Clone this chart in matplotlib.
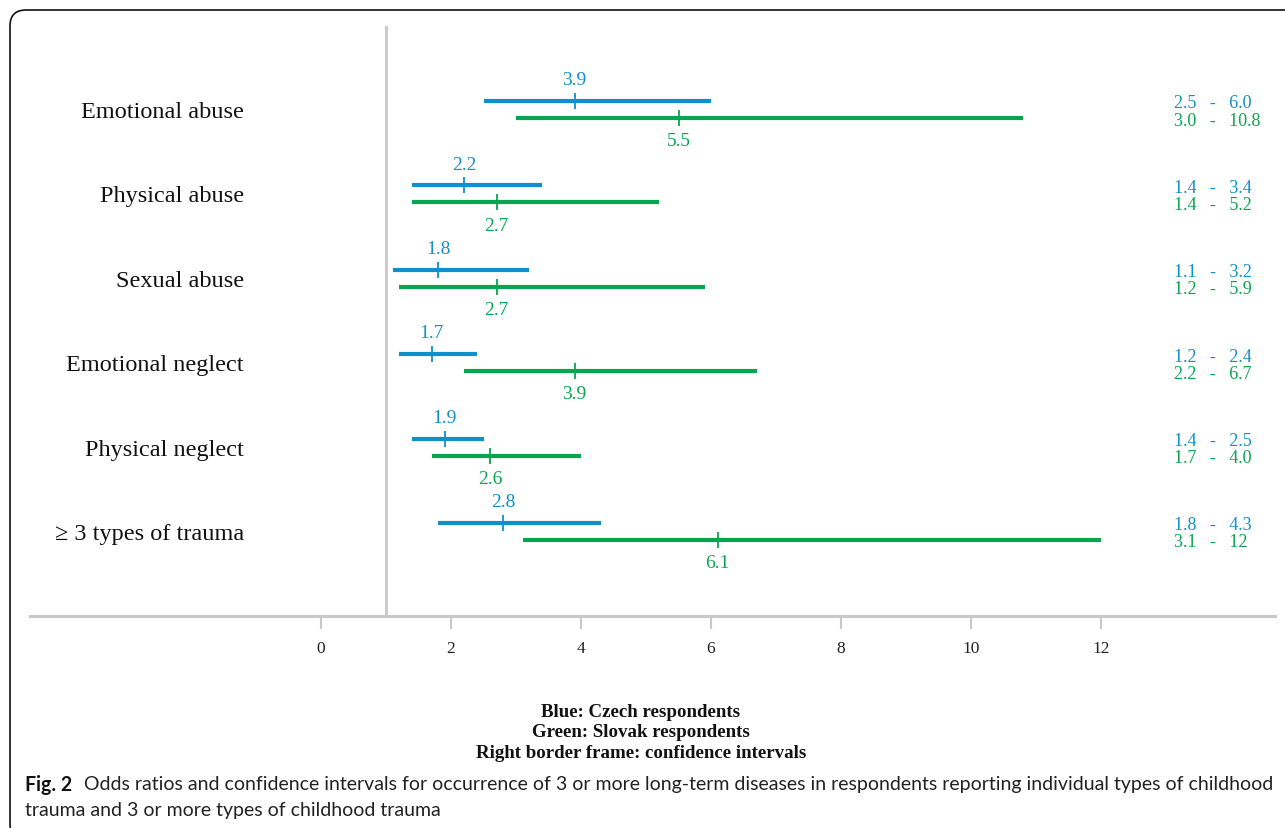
import matplotlib
matplotlib.use('Agg')
import matplotlib.pyplot as plt
from matplotlib import font_manager
from matplotlib.patches import FancyBboxPatch
from matplotlib.transforms import IdentityTransform

# ---------------- data ----------------
categories = ["Emotional abuse", "Physical abuse", "Sexual abuse",
              "Emotional neglect", "Physical neglect", "\u2265 3 types of trauma"]
czech_or = [3.9, 2.2, 1.8, 1.7, 1.9, 2.8]
czech_lo = [2.5, 1.4, 1.1, 1.2, 1.4, 1.8]
czech_hi = [6.0, 3.4, 3.2, 2.4, 2.5, 4.3]
slovak_or = [5.5, 2.7, 2.7, 3.9, 2.6, 6.1]
slovak_lo = [3.0, 1.4, 1.2, 2.2, 1.7, 3.1]
slovak_hi = [10.8, 5.2, 5.9, 6.7, 4.0, 12]
xticks = [0, 2, 4, 6, 8, 10, 12]
legend_lines = ["Blue: Czech respondents", "Green: Slovak respondents",
                "Right border frame: confidence intervals"]
caption_bold = "Fig. 2"
caption_line1 = ("Odds ratios and confidence intervals for occurrence of 3 or more long-term "
                 "diseases in respondents reporting individual types of childhood")
caption_line2 = "trauma and 3 or more types of childhood trauma"

BLUE = "#0e90cc"
GREEN = "#08a551"
GRAY = "#c8c8c8"
SERIF = ["Liberation Serif", "DejaVu Serif"]


def fmt(v):
    return str(v) if isinstance(v, int) else f"{v:.1f}"


W, H = 1285, 829
fig = plt.figure(figsize=(W / 100, H / 100), dpi=100)


def fx(px):
    return px / W


def fy(py):
    return 1 - py / H


# axes placed so that x=0 -> 321px, 65 px per unit
ax = fig.add_axes([fx(30), fy(617), fx(1275) - fx(30), fy(27) - fy(617)])
ax.set_xlim((30 - 321) / 65, (1275 - 321) / 65)
row_mid, row_step = 110.5, 84.4
ax.set_ylim((617 - row_mid) / row_step, (27 - row_mid) / row_step)

for s in ["top", "right", "left"]:
    ax.spines[s].set_visible(False)
ax.spines["bottom"].set_color(GRAY)
ax.spines["bottom"].set_linewidth(2.2)
ax.axvline(1, color=GRAY, lw=2.0, zorder=1)
ax.set_yticks([])
ax.set_xticks(xticks)
ax.set_xticklabels([str(t) for t in xticks], family=SERIF, fontsize=12.5, color="#222222")
ax.tick_params(axis="x", length=9.5, width=1.5, color=GRAY, pad=8)

off = 8.5 / row_step
dy = 2.0 / row_step  # small downward nudge for text centring
for i, cat in enumerate(categories):
    yb, yg = i - off, i + off
    ax.plot([czech_lo[i], czech_hi[i]], [yb, yb], color=BLUE, lw=3.0,
            solid_capstyle="butt", zorder=3)
    ax.plot([czech_or[i]], [yb], marker="|", ms=11, mew=1.3, color=BLUE, zorder=4)
    ax.plot([slovak_lo[i], slovak_hi[i]], [yg, yg], color=GREEN, lw=3.0,
            solid_capstyle="butt", zorder=3)
    ax.plot([slovak_or[i]], [yg], marker="|", ms=11, mew=1.3, color=GREEN, zorder=4)
    ax.annotate(fmt(czech_or[i]), (czech_or[i], yb), xytext=(0, 15.3),
                textcoords="offset points", ha="center", va="center",
                family=SERIF, fontsize=14, color=BLUE)
    ax.annotate(fmt(slovak_or[i]), (slovak_or[i], yg), xytext=(0, -16.3),
                textcoords="offset points", ha="center", va="center",
                family=SERIF, fontsize=14, color=GREEN)
    ax.text((244 - 321) / 65, i + dy, cat, ha="right", va="center",
            family=SERIF, fontsize=17.5, color="#111111")
    ax.text((1174 - 321) / 65, yb + dy, f"{fmt(czech_lo[i])}   -   {fmt(czech_hi[i])}",
            ha="left", va="center", family=SERIF, fontsize=13, color=BLUE)
    ax.text((1174 - 321) / 65, yg + dy, f"{fmt(slovak_lo[i])}   -   {fmt(slovak_hi[i])}",
            ha="left", va="center", family=SERIF, fontsize=13, color=GREEN)

# legend-like notes
for txt, py in zip(legend_lines, [713, 733, 754]):
    fig.text(fx(641), fy(py), txt, ha="center", va="center", family=SERIF,
             fontsize=13.6, fontweight="bold", color="#111111")

# rounded frame (cut off at right and bottom)
frame = FancyBboxPatch((10, -12), 1320, H - 10 + 11, boxstyle="round,pad=0,rounding_size=16",
                       fill=False, ec="#111111", lw=1.2, transform=IdentityTransform())
fig.patches.append(frame)

# caption
names = {f.name for f in font_manager.fontManager.ttflist}
cap_family = "Lato" if "Lato" in names else "Open Sans"
fs = 13.0
tb = fig.text(fx(25), fy(785), caption_bold, ha="left", va="center", family=cap_family,
              fontsize=fs, fontweight="bold", color="#111111")
t1 = fig.text(fx(80), fy(785), caption_line1, ha="left", va="center", family=cap_family,
              fontsize=fs, color="#222222")
t2 = fig.text(fx(25), fy(811), caption_line2, ha="left", va="center", family=cap_family,
              fontsize=fs, color="#222222")
fig.canvas.draw()
r = fig.canvas.get_renderer()
wb = tb.get_window_extent(r).width
w1 = t1.get_window_extent(r).width
gap = 0.6 * fs * 100 / 72
scale = (1270 - 25) / (wb + gap + w1)
fs2 = fs * scale
for t in (tb, t1, t2):
    t.set_fontsize(fs2)
fig.canvas.draw()
wb = tb.get_window_extent(r).width
t1.set_x(fx(25 + wb + 0.6 * fs2 * 100 / 72))

fig.savefig("out.png", dpi=100)
